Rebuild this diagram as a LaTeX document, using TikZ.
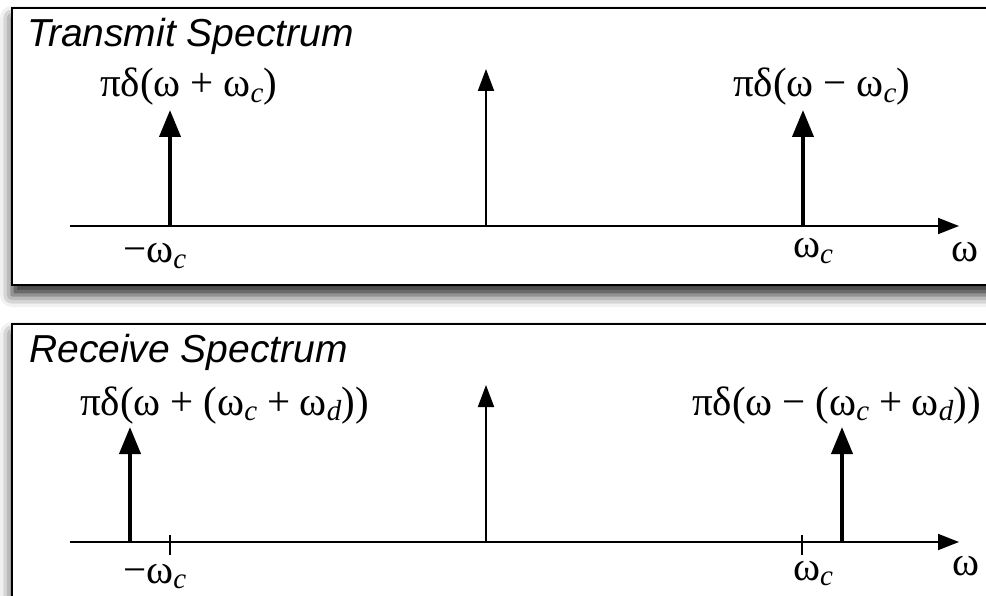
\documentclass[tikz,border=0pt]{standalone}
\usepackage{fontspec}
\setmainfont{Liberation Serif}
\newfontfamily\titelfont{Liberation Sans}
\usetikzlibrary{arrows.meta,shadows.blur}
\newcommand{\idx}[1]{\raisebox{-0.3ex}{\fontsize{29}{29}\selectfont\itshape #1}}
\newcommand{\op}[1]{\hspace{0.24em}#1\hspace{0.24em}}
\tikzset{
  panou/.style    = {draw=black, line width=2.5pt, fill=white,
                     blur shadow={shadow xshift=0pt, shadow yshift=-10pt,
                                  shadow blur radius=12pt, shadow opacity=85}},
  titlu/.style    = {font=\fontsize{39}{39}\selectfont\titelfont\itshape,
                     anchor=base west, inner sep=0pt},
  eticheta/.style = {font=\fontsize{41}{41}\selectfont, anchor=base west, inner sep=0pt},
  axa/.style      = {draw=black, -{Triangle[length=21pt,width=16pt,fill=black]}, line width=2pt},
  impuls/.style   = {draw=black, -{Triangle[length=27pt,width=21pt,fill=black]}, line width=4pt},
  central/.style  = {draw=black, -{Triangle[length=22pt,width=16pt,fill=black]}, line width=2pt},
  gradatie/.style = {draw=black, line width=2pt}
}
\begin{document}
\begin{tikzpicture}[x=1pt, y=-1pt]
    \useasboundingbox (0,0) rectangle (986,596);
    \clip (0,0) rectangle (986,596);

    % panoul de emisie
    \draw[panou] (12,8) rectangle (1000,285);
    \node[titlu] (tx) at (27,47) {Transmit Spectrum};
    \coordinate (a1) at (70,226);
    \coordinate (b1) at (959,226);
    \coordinate (s1) at (170,226);  \coordinate (v1) at (170,110);
    \coordinate (c1) at (486,226);  \coordinate (w1) at (486,69);
    \coordinate (d1) at (803,226);  \coordinate (u1) at (803,110);
    \draw[axa] (a1) -- (b1);
    \draw[impuls] (s1) -- (v1);
    \draw[central] (c1) -- (w1);
    \draw[impuls] (d1) -- (u1);
    \node[eticheta] (ls1) at (100,97) {πδ(ω\op{+}ω\idx{c})};
    \node[eticheta] (ld1) at (733,97) {πδ(ω\op{−}ω\idx{c})};
    \node[eticheta] (ms1) at (123,263) {−ω\idx{c}};
    \node[eticheta] (md1) at (793,258) {ω\idx{c}};
    \node[eticheta] (om1) at (951,262) {ω};

    % panoul de receptie
    \draw[panou] (12,324) rectangle (1000,620);
    \node[titlu] (rx) at (29,362) {Receive Spectrum};
    \coordinate (a2) at (70,542);
    \coordinate (b2) at (959,542);
    \coordinate (s2) at (130,542);  \coordinate (v2) at (130,427);
    \coordinate (c2) at (486,542);  \coordinate (w2) at (486,385);
    \coordinate (d2) at (842,542);  \coordinate (u2) at (842,427);
    \coordinate (t1) at (170,535);  \coordinate (t2) at (170,555);
    \coordinate (t3) at (802,535);  \coordinate (t4) at (802,555);
    \draw[axa] (a2) -- (b2);
    \draw[gradatie] (t1) -- (t2);
    \draw[gradatie] (t3) -- (t4);
    \draw[impuls] (s2) -- (v2);
    \draw[central] (c2) -- (w2);
    \draw[impuls] (d2) -- (u2);
    \node[eticheta] (ls2) at (80,415) {πδ(ω\op{+}(ω\idx{c}\op{+}ω\idx{d}))};
    \node[eticheta] (ld2) at (692,415) {πδ(ω\op{−}(ω\idx{c}\op{+}ω\idx{d}))};
    \node[eticheta] (ms2) at (123,583) {−ω\idx{c}};
    \node[eticheta] (md2) at (793,580) {ω\idx{c}};
    \node[eticheta] (om2) at (952,575) {ω};
\end{tikzpicture}
\end{document}
